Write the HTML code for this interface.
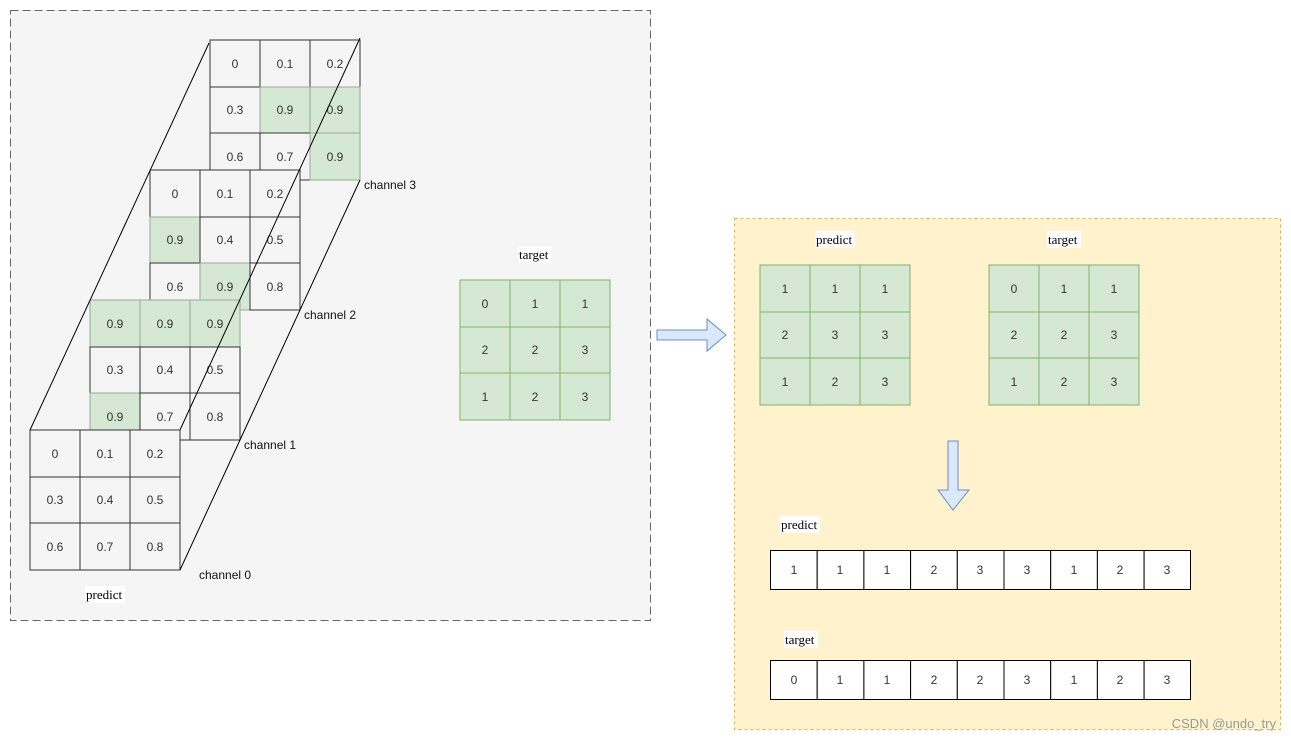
<!DOCTYPE html>
<html><head><meta charset="utf-8"><style>
html,body{margin:0;padding:0;background:#fff;width:1291px;height:741px;overflow:hidden}
svg{display:block}
.c{font-family:"Liberation Sans",Arial,sans-serif;font-size:12px;fill:#333;text-anchor:middle;dominant-baseline:central}
.l{font-family:"Liberation Serif",serif;font-size:13px;fill:#000}
.ch{font-family:"Liberation Sans",Arial,sans-serif;font-size:12px;fill:#111}
</style></head><body>
<svg width="1291" height="741" viewBox="0 0 1291 741" xmlns="http://www.w3.org/2000/svg">
<rect x="10.5" y="10.5" width="640" height="610" fill="#f5f5f5" stroke="#666" stroke-dasharray="8 4"/>
<rect x="734.5" y="218.5" width="546" height="511" fill="#fff2cc" stroke="#d6b656" stroke-dasharray="3 3"/>

<g stroke="#333" stroke-width="1">
<rect x="210" y="40" width="50" height="47" fill="#f5f5f5"/><rect x="260" y="40" width="50" height="47" fill="#f5f5f5"/><rect x="310" y="40" width="50" height="47" fill="#f5f5f5"/>
<rect x="210" y="87" width="50" height="46" fill="#f5f5f5"/><rect x="260" y="87" width="50" height="46" fill="#d5e8d4" stroke="#9a9"/><rect x="310" y="87" width="50" height="46" fill="#d5e8d4" stroke="#9a9"/>
<rect x="210" y="133" width="50" height="47" fill="#f5f5f5"/><rect x="260" y="133" width="50" height="47" fill="#f5f5f5"/><rect x="310" y="133" width="50" height="47" fill="#d5e8d4" stroke="#9a9"/>
</g>
<g class="c"><text x="235" y="64">0</text><text x="285" y="64">0.1</text><text x="335" y="64">0.2</text>
<text x="235" y="110">0.3</text><text x="285" y="110">0.9</text><text x="335" y="110">0.9</text>
<text x="235" y="157">0.6</text><text x="285" y="157">0.7</text><text x="335" y="157">0.9</text></g>

<g stroke="#333">
<rect x="150" y="170" width="50" height="47" fill="#f5f5f5"/><rect x="200" y="170" width="50" height="47" fill="#f5f5f5"/><rect x="250" y="170" width="50" height="47" fill="#f5f5f5"/>
<rect x="150" y="217" width="50" height="46" fill="#d5e8d4" stroke="#9a9"/><rect x="200" y="217" width="50" height="46" fill="#f5f5f5"/><rect x="250" y="217" width="50" height="46" fill="#f5f5f5"/>
<rect x="150" y="263" width="50" height="47" fill="#f5f5f5"/><rect x="200" y="263" width="50" height="47" fill="#d5e8d4" stroke="#9a9"/><rect x="250" y="263" width="50" height="47" fill="#f5f5f5"/>
</g>
<g class="c"><text x="175" y="194">0</text><text x="225" y="194">0.1</text><text x="275" y="194">0.2</text>
<text x="175" y="240">0.9</text><text x="225" y="240">0.4</text><text x="275" y="240">0.5</text>
<text x="175" y="287">0.6</text><text x="225" y="287">0.9</text><text x="275" y="287">0.8</text></g>

<g stroke="#333">
<rect x="90" y="300" width="50" height="47" fill="#d5e8d4" stroke="#9a9"/><rect x="140" y="300" width="50" height="47" fill="#d5e8d4" stroke="#9a9"/><rect x="190" y="300" width="50" height="47" fill="#d5e8d4" stroke="#9a9"/>
<rect x="90" y="347" width="50" height="46" fill="#f5f5f5"/><rect x="140" y="347" width="50" height="46" fill="#f5f5f5"/><rect x="190" y="347" width="50" height="46" fill="#f5f5f5"/>
<rect x="90" y="393" width="50" height="47" fill="#d5e8d4" stroke="#9a9"/><rect x="140" y="393" width="50" height="47" fill="#f5f5f5"/><rect x="190" y="393" width="50" height="47" fill="#f5f5f5"/>
</g>
<g class="c"><text x="115" y="324">0.9</text><text x="165" y="324">0.9</text><text x="215" y="324">0.9</text>
<text x="115" y="370">0.3</text><text x="165" y="370">0.4</text><text x="215" y="370">0.5</text>
<text x="115" y="417">0.9</text><text x="165" y="417">0.7</text><text x="215" y="417">0.8</text></g>

<g stroke="#333">
<rect x="30" y="430" width="50" height="47" fill="#f5f5f5"/><rect x="80" y="430" width="50" height="47" fill="#f5f5f5"/><rect x="130" y="430" width="50" height="47" fill="#f5f5f5"/>
<rect x="30" y="477" width="50" height="46" fill="#f5f5f5"/><rect x="80" y="477" width="50" height="46" fill="#f5f5f5"/><rect x="130" y="477" width="50" height="46" fill="#f5f5f5"/>
<rect x="30" y="523" width="50" height="47" fill="#f5f5f5"/><rect x="80" y="523" width="50" height="47" fill="#f5f5f5"/><rect x="130" y="523" width="50" height="47" fill="#f5f5f5"/>
</g>
<g class="c"><text x="55" y="454">0</text><text x="105" y="454">0.1</text><text x="155" y="454">0.2</text>
<text x="55" y="500">0.3</text><text x="105" y="500">0.4</text><text x="155" y="500">0.5</text>
<text x="55" y="547">0.6</text><text x="105" y="547">0.7</text><text x="155" y="547">0.8</text></g>

<g stroke="#000" stroke-width="1" fill="none">
<line x1="209" y1="43" x2="30" y2="430"/>
<line x1="360" y1="38" x2="180" y2="430"/>
<line x1="360" y1="180" x2="180" y2="570"/>
</g>
<g class="ch"><text x="364" y="189">channel 3</text><text x="304" y="319">channel 2</text><text x="244" y="449">channel 1</text><text x="199" y="579">channel 0</text></g>
<rect x="85" y="586" width="40" height="17" fill="#fff"/><text class="l" x="86" y="599">predict</text>

<g fill="#d5e8d4" stroke="#82b366">
<rect x="460" y="280" width="50" height="47"/><rect x="510" y="280" width="50" height="47"/><rect x="560" y="280" width="50" height="47"/>
<rect x="460" y="327" width="50" height="46"/><rect x="510" y="327" width="50" height="46"/><rect x="560" y="327" width="50" height="46"/>
<rect x="460" y="373" width="50" height="47"/><rect x="510" y="373" width="50" height="47"/><rect x="560" y="373" width="50" height="47"/>
</g>
<g class="c"><text x="485" y="304">0</text><text x="535" y="304">1</text><text x="585" y="304">1</text>
<text x="485" y="350">2</text><text x="535" y="350">2</text><text x="585" y="350">3</text>
<text x="485" y="397">1</text><text x="535" y="397">2</text><text x="585" y="397">3</text></g>
<rect x="518" y="246" width="34" height="17" fill="#fff"/><text class="l" x="519" y="259">target</text>

<polygon points="657,330 707,330 707,319 726,335 707,351 707,340 657,340" fill="#dae8fc" stroke="#6c8ebf"/>
<polygon points="948,441 958,441 958,490 969,490 953,510 938,490 948,490" fill="#dae8fc" stroke="#6c8ebf"/>

<g fill="#d5e8d4" stroke="#82b366">
<rect x="760" y="265" width="50" height="47"/><rect x="810" y="265" width="50" height="47"/><rect x="860" y="265" width="50" height="47"/>
<rect x="760" y="312" width="50" height="46"/><rect x="810" y="312" width="50" height="46"/><rect x="860" y="312" width="50" height="46"/>
<rect x="760" y="358" width="50" height="47"/><rect x="810" y="358" width="50" height="47"/><rect x="860" y="358" width="50" height="47"/>
<rect x="989" y="265" width="50" height="47"/><rect x="1039" y="265" width="50" height="47"/><rect x="1089" y="265" width="50" height="47"/>
<rect x="989" y="312" width="50" height="46"/><rect x="1039" y="312" width="50" height="46"/><rect x="1089" y="312" width="50" height="46"/>
<rect x="989" y="358" width="50" height="47"/><rect x="1039" y="358" width="50" height="47"/><rect x="1089" y="358" width="50" height="47"/>
</g>
<g class="c"><text x="785" y="289">1</text><text x="835" y="289">1</text><text x="885" y="289">1</text>
<text x="785" y="335">2</text><text x="835" y="335">3</text><text x="885" y="335">3</text>
<text x="785" y="382">1</text><text x="835" y="382">2</text><text x="885" y="382">3</text>
<text x="1014" y="289">0</text><text x="1064" y="289">1</text><text x="1114" y="289">1</text>
<text x="1014" y="335">2</text><text x="1064" y="335">2</text><text x="1114" y="335">3</text>
<text x="1014" y="382">1</text><text x="1064" y="382">2</text><text x="1114" y="382">3</text></g>
<rect x="815" y="231" width="40" height="17" fill="#fff"/><text class="l" x="816" y="244">predict</text>
<rect x="1047" y="231" width="34" height="17" fill="#fff"/><text class="l" x="1048" y="244">target</text>

<g fill="#fff" stroke="#000">
<rect x="770.5" y="550.5" width="46.7" height="39"/><rect x="817.2" y="550.5" width="46.7" height="39"/><rect x="863.9" y="550.5" width="46.7" height="39"/><rect x="910.6" y="550.5" width="46.7" height="39"/><rect x="957.3" y="550.5" width="46.7" height="39"/><rect x="1004" y="550.5" width="46.7" height="39"/><rect x="1050.7" y="550.5" width="46.7" height="39"/><rect x="1097.4" y="550.5" width="46.7" height="39"/><rect x="1144.1" y="550.5" width="46.4" height="39"/>
<rect x="770.5" y="660.5" width="46.7" height="39"/><rect x="817.2" y="660.5" width="46.7" height="39"/><rect x="863.9" y="660.5" width="46.7" height="39"/><rect x="910.6" y="660.5" width="46.7" height="39"/><rect x="957.3" y="660.5" width="46.7" height="39"/><rect x="1004" y="660.5" width="46.7" height="39"/><rect x="1050.7" y="660.5" width="46.7" height="39"/><rect x="1097.4" y="660.5" width="46.7" height="39"/><rect x="1144.1" y="660.5" width="46.4" height="39"/>
</g>
<g class="c"><text x="794" y="570">1</text><text x="840" y="570">1</text><text x="887" y="570">1</text><text x="934" y="570">2</text><text x="980" y="570">3</text><text x="1027" y="570">3</text><text x="1074" y="570">1</text><text x="1120" y="570">2</text><text x="1167" y="570">3</text>
<text x="794" y="680">0</text><text x="840" y="680">1</text><text x="887" y="680">1</text><text x="934" y="680">2</text><text x="980" y="680">2</text><text x="1027" y="680">3</text><text x="1074" y="680">1</text><text x="1120" y="680">2</text><text x="1167" y="680">3</text></g>
<rect x="780" y="516" width="40" height="17" fill="#fff"/><text class="l" x="781" y="529">predict</text>
<rect x="784" y="631" width="34" height="17" fill="#fff"/><text class="l" x="785" y="644">target</text>
<text x="1276" y="728" font-family="Liberation Sans, Arial, sans-serif" font-size="13" fill="#999" text-anchor="end">CSDN @undo_try</text>
</svg>
</body></html>
